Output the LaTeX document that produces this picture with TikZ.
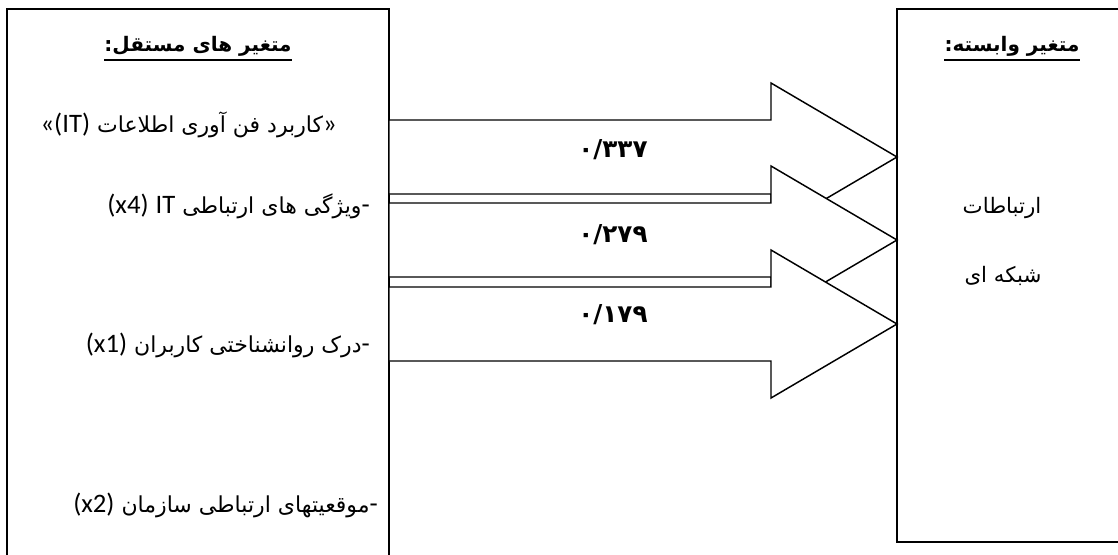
\documentclass[tikz,border=0pt]{standalone}
\usepackage{fontspec}
\TeXXeTstate=1
\newfontfamily\fa[Script=Arabic]{DejaVu Sans}
\newfontfamily\lat{Carlito}
\newcommand\LT[1]{\beginL{\lat\fontsize{20}{24}\selectfont #1}\endL}
\begin{document}
\begin{tikzpicture}[x=0.75pt,y=-0.75pt,
  boxline/.style={draw=black,line width=1.5pt},
  blockarrow/.style={draw=black,fill=white,line width=1.1pt,line join=miter},
  lefttext/.style={anchor=base east,inner sep=0pt,font=\fa\fontsize{16.5}{20}\selectfont},
  midtext/.style={anchor=base,inner sep=0pt,font=\fa\fontsize{16}{20}\selectfont},
  titletext/.style={anchor=base,inner sep=0pt,font=\fa\bfseries\fontsize{15}{18}\selectfont},
  coef/.style={anchor=base,inner sep=0pt,font=\fa\bfseries\fontsize{18.5}{22}\selectfont},
  uline/.style={draw=black,line width=1.4pt}]
\useasboundingbox (0,0) rectangle (1118,554);
\clip (0,0) rectangle (1118,554);
% boxes
\draw[boxline] (7,9) rectangle (389,600);
\draw[boxline] (897,9) rectangle (1200,542);
% arrows (drawn in order so later ones cover earlier heads)
\foreach \c/\n in {157/1,240/2,324/3}{
  \coordinate (tip\n) at (897,\c);
  \draw[blockarrow] (389,\c-37) -- (771,\c-37) -- (771,\c-74) -- (tip\n)
     -- (771,\c+74) -- (771,\c+37) -- (389,\c+37) -- cycle;
}
% coefficients
\node[coef] (k1) at (613,157) {۰/۳۳۷};
\node[coef] (k2) at (613,242) {۰/۲۷۹};
\node[coef] (k3) at (613,322) {۰/۱۷۹};
% left title
\node[titletext] (lt) at (198,51) {\beginR متغیر های مستقل:\endR};
\draw[uline] ([yshift=-7pt]lt.base west) -- ([yshift=-7pt]lt.base east);
% right title
\node[titletext] (rt) at (1012,51) {\beginR متغیر وابسته:\endR};
\draw[uline] ([yshift=-7pt]rt.base west) -- ([yshift=-7pt]rt.base east);
% left lines
\node[lefttext] (a1) at (337,132) {\beginR\LT{»}کاربرد فن آوری اطلاعات \LT{«(IT)}\endR};
\node[lefttext] (a2) at (370,213) {\beginR\LT{-}ویژگی های ارتباطی \LT{IT} \LT{(x4)}\endR};
\node[lefttext] (a3) at (370,352) {\beginR\LT{-}درک روانشناختی کاربران \LT{(x1)}\endR};
\node[lefttext] (a4) at (378,512) {\beginR\LT{-}موقعیتهای ارتباطی سازمان \LT{(x2)}\endR};
% right texts
\node[midtext] (b1) at (1002,213) {\beginR ارتباطات\endR};
\node[midtext] (b2) at (1003,282) {\beginR شبکه ای\endR};
\end{tikzpicture}
\end{document}
